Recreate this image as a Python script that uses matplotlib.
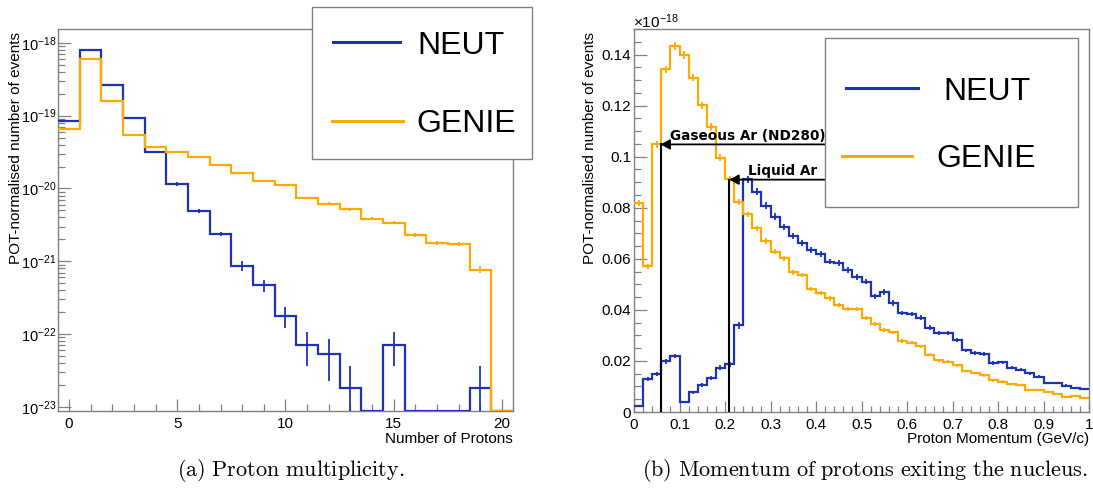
import numpy as np
import matplotlib
matplotlib.use("Agg")
import matplotlib.pyplot as plt
from matplotlib.patches import Rectangle
from matplotlib.lines import Line2D
from matplotlib.ticker import MultipleLocator, FixedLocator, NullFormatter, FuncFormatter

plt.rcParams['font.family'] = ['Liberation Sans', 'DejaVu Sans']
plt.rcParams['mathtext.fontset'] = 'custom'
plt.rcParams['mathtext.rm'] = 'Liberation Sans'
plt.rcParams['mathtext.it'] = 'Liberation Sans:italic'
plt.rcParams['mathtext.bf'] = 'Liberation Sans:bold'

W, H = 1093, 493

# ---- data: proton multiplicity (bins 0..20) ----
n_protons = np.arange(21)
neut_mult = [8.4e-20, 8.0e-19, 2.6e-19, 9.2e-20, 3.2e-20, 1.16e-20, 4.9e-21, 2.37e-21,
             8.7e-22, 4.7e-22, 1.8e-22, 7.1e-23, 5.4e-23, 1.8e-23, 0, 7.2e-23,
             0, 0, 0, 1.8e-23, 0]
neut_mult_err = [1.5e-21, 7e-21, 4e-21, 2e-21, 1.2e-21, 7e-22, 2.5e-22, 1.7e-22,
                 1.4e-22, 9e-23, 5.7e-23, 3.5e-23, 3.1e-23, 1.8e-23, 0, 3.6e-23,
                 0, 0, 0, 1.8e-23, 0]
genie_mult = [6.5e-20, 6.0e-19, 1.58e-19, 5.4e-20, 3.7e-20, 3.2e-20, 2.67e-20, 2.09e-20,
              1.63e-20, 1.28e-20, 1.13e-20, 7.5e-21, 6.2e-21, 5.15e-21, 3.84e-21, 3.39e-21,
              2.32e-21, 1.80e-21, 1.73e-21, 7.7e-22, 0]
genie_mult_err = [1e-21, 4e-21, 2e-21, 1e-21, 7e-22, 6e-22, 5e-22, 4.5e-22,
                  4e-22, 3.5e-22, 3.2e-22, 2.6e-22, 2.4e-22, 2.1e-22, 1.8e-22, 1.7e-22,
                  1.4e-22, 1.2e-22, 1.2e-22, 8.5e-23, 0]
log_decades = [-23, -22, -21, -20, -19, -18]

# ---- data: proton momentum, 50 bins of 0.02 GeV/c, in units of 1e-18 ----
p_edges = np.linspace(0.0, 1.0, 51)
neut_mom = [0.0024, 0.0130, 0.0149, 0.0198, 0.0220, 0.0039, 0.0077, 0.0105, 0.0132, 0.0174,
            0.0187, 0.0339, 0.0911, 0.0863, 0.0808, 0.0765, 0.0725, 0.0691, 0.0663, 0.0636,
            0.0619, 0.0589, 0.0584, 0.0555, 0.0529, 0.0511, 0.0453, 0.0470, 0.0427, 0.0388,
            0.0384, 0.0369, 0.0330, 0.0308, 0.0308, 0.0282, 0.0241, 0.0232, 0.0227, 0.0192,
            0.0195, 0.0174, 0.0165, 0.0151, 0.0139, 0.0114, 0.0113, 0.0103, 0.0094, 0.0089]
neut_mom_err = [0.0004, 0.0008, 0.0008, 0.0009, 0.0009, 0.0004, 0.0006, 0.0007, 0.0008, 0.0009,
                0.0009, 0.0012, 0.0015, 0.0014, 0.0014, 0.0013, 0.0013, 0.0012, 0.0012, 0.0012,
                0.0012, 0.0011, 0.0011, 0.0011, 0.0011, 0.0011, 0.0010, 0.0010, 0.0010, 0.0009,
                0.0009, 0.0009, 0.0009, 0.0008, 0.0008, 0.0008, 0.0007, 0.0007, 0.0007, 0.0006,
                0.0006, 0.0006, 0.0006, 0.0006, 0.0005, 0.0005, 0.0005, 0.0005, 0.0004, 0.0004]
genie_mom = [0.0820, 0.0571, 0.1048, 0.1342, 0.1434, 0.1399, 0.1310, 0.1201, 0.1116, 0.0996,
             0.0911, 0.0823, 0.0774, 0.0719, 0.0670, 0.0627, 0.0602, 0.0547, 0.0536, 0.0482,
             0.0466, 0.0445, 0.0418, 0.0405, 0.0402, 0.0368, 0.0343, 0.0321, 0.0312, 0.0278,
             0.0272, 0.0257, 0.0225, 0.0202, 0.0196, 0.0183, 0.0160, 0.0152, 0.0143, 0.0124,
             0.0119, 0.0109, 0.0105, 0.0086, 0.0086, 0.0079, 0.0069, 0.0060, 0.0064, 0.0056]
genie_mom_err = [0.0012, 0.0010, 0.0014, 0.0015, 0.0016, 0.0015, 0.0015, 0.0014, 0.0014, 0.0013,
                 0.0012, 0.0012, 0.0011, 0.0011, 0.0011, 0.0010, 0.0010, 0.0010, 0.0009, 0.0009,
                 0.0009, 0.0009, 0.0008, 0.0008, 0.0008, 0.0008, 0.0008, 0.0007, 0.0007, 0.0007,
                 0.0007, 0.0006, 0.0006, 0.0006, 0.0006, 0.0006, 0.0005, 0.0005, 0.0005, 0.0005,
                 0.0005, 0.0004, 0.0004, 0.0004, 0.0004, 0.0004, 0.0004, 0.0003, 0.0003, 0.0003]

# threshold markers: (label, momentum GeV/c, height, text x, text y)
thresholds = [("Gaseous Ar (ND280)", 0.0584, 0.1048, 0.079, 0.1066),
              ("Liquid Ar", 0.2095, 0.0910, 0.2505, 0.0928)]

series = ["NEUT", "GENIE"]
colors = {"NEUT": "#1c33b2", "GENIE": "#ffaa00"}
frame_col = "#808080"


def px(x, y):
    return x / W, 1 - y / H


def style_axes(ax):
    for s in ax.spines.values():
        s.set_color(frame_col)
        s.set_linewidth(1.0)
    ax.tick_params(which='both', direction='in', colors=frame_col, labelcolor='black',
                   top=False, right=False, labelsize=11, width=0.9)
    ax.tick_params(axis='x', which='both', pad=4)
    ax.tick_params(axis='y', which='both', pad=2)


fig = plt.figure(figsize=(W / 100, H / 100), dpi=100)

# ---------------- left: multiplicity ----------------
x0, y0 = px(58, 411)
x1, y1 = px(513, 29)
axl = fig.add_axes([x0, y0, x1 - x0, y1 - y0])
axl.set_yscale('log')
ymin_l, ymax_l = 8.8e-24, 1.55e-18
edges_m = np.append(n_protons - 0.5, n_protons[-1] + 0.5)
for name, vals, errs in [("NEUT", neut_mult, neut_mult_err), ("GENIE", genie_mult, genie_mult_err)]:
    v = np.array(vals)
    e = np.array(errs)
    vd = np.where(v > 0, v, ymin_l)
    axl.stairs(vd, edges_m, baseline=None, color=colors[name], lw=1.6, zorder=3)
    m = v > 0
    lo = np.minimum(e[m], v[m] - ymin_l * 0.5)
    axl.errorbar(n_protons[m], v[m], yerr=[lo, e[m]], fmt='none', ecolor=colors[name],
                 elinewidth=1.3, capsize=0, zorder=3)
axl.set_xlim(-0.5, 20.5)
axl.set_ylim(ymin_l, ymax_l)
axl.xaxis.set_major_locator(MultipleLocator(5))
axl.xaxis.set_minor_locator(MultipleLocator(1))
major_y = [10.0 ** d for d in log_decades]
minor_y = [k * 10.0 ** d for d in log_decades[:-1] for k in range(2, 10)]
minor_y = [t for t in minor_y + [k * 1e-18 for k in range(2, 10)] if ymin_l < t < ymax_l]
axl.yaxis.set_major_locator(FixedLocator(major_y))
axl.yaxis.set_minor_locator(FixedLocator(minor_y))
axl.yaxis.set_major_formatter(FuncFormatter(lambda v, p: r"$10^{%d}$" % round(np.log10(v))))
axl.yaxis.set_minor_formatter(NullFormatter())
style_axes(axl)
axl.tick_params(axis='y', labelsize=10.5, pad=1.5)
axl.tick_params(axis='x', which='major', length=8.5)
axl.tick_params(axis='x', which='minor', length=5)
axl.tick_params(axis='y', which='major', length=9.5)
axl.tick_params(axis='y', which='minor', length=5)

# ---------------- right: momentum ----------------
x0, y0 = px(634, 412)
x1, y1 = px(1089, 29)
axr = fig.add_axes([x0, y0, x1 - x0, y1 - y0])
centers = 0.5 * (p_edges[:-1] + p_edges[1:])
for name, vals, errs in [("NEUT", neut_mom, neut_mom_err), ("GENIE", genie_mom, genie_mom_err)]:
    axr.stairs(vals, p_edges, baseline=None, color=colors[name], lw=1.6, zorder=3)
    axr.errorbar(centers, vals, yerr=errs, fmt='none', ecolor=colors[name],
                 elinewidth=1.3, capsize=0, zorder=3)
for label, xv, yv, tx, ty in thresholds:
    axr.plot([xv, xv], [0, yv], color='black', lw=1.5, zorder=4)
    axr.annotate('', xy=(xv, yv), xytext=(0.43, yv),
                 arrowprops=dict(arrowstyle='-|>,head_length=0.55,head_width=0.3',
                                 color='black', lw=1.3, mutation_scale=10,
                                 shrinkA=0, shrinkB=0), zorder=4)
    axr.text(tx, ty, label, fontsize=9.8, fontweight='bold', family='DejaVu Sans',
             ha='left', va='baseline', zorder=5)
axr.set_xlim(0, 1)
axr.set_ylim(0, 0.15)
axr.xaxis.set_major_locator(MultipleLocator(0.1))
axr.xaxis.set_minor_locator(MultipleLocator(0.02))
axr.yaxis.set_major_locator(MultipleLocator(0.02))
axr.yaxis.set_minor_locator(MultipleLocator(0.005))
fmt = FuncFormatter(lambda v, p: "%g" % round(v, 6))
axr.xaxis.set_major_formatter(fmt)
axr.yaxis.set_major_formatter(fmt)
style_axes(axr)
axr.tick_params(axis='x', which='major', length=8)
axr.tick_params(axis='x', which='minor', length=4)
axr.tick_params(axis='y', which='major', length=9.5)
axr.tick_params(axis='y', which='minor', length=5)

# ---------------- axis titles ----------------
for xp in (16, 590):
    fig.text(*px(xp, 32), "POT-normalised number of events", rotation=90,
             ha='center', va='top', fontsize=11)
fig.text(*px(513, 443), "Number of Protons", ha='right', va='baseline', fontsize=11)
fig.text(*px(1089, 443), "Proton Momentum (GeV/c)", ha='right', va='baseline', fontsize=11)
fig.text(*px(633, 28), r"$\times10^{-18}$", ha='left', va='baseline', fontsize=11)

# ---------------- legends (drawn as boxes like ROOT TLegend) ----------------
legends = [
    # box (x0, y0, x1, y1), per entry: line x0, line x1, line y, text x, text baseline
    ((312, 7, 532, 159), [(333, 400, 42, 417, 54), (332, 403, 121, 416, 132)]),
    ((825, 38, 1078, 207), [(846, 918, 88, 943, 100), (842, 912, 156, 936, 167)]),
]
for (bx0, by0, bx1, by1), entries in legends:
    fx0, fy1 = px(bx0, by0)
    fx1, fy0 = px(bx1, by1)
    fig.add_artist(Rectangle((fx0, fy0), fx1 - fx0, fy1 - fy0, transform=fig.transFigure,
                             facecolor='white', edgecolor=frame_col, lw=1.0, zorder=10))
    for name, (lx0, lx1, ly, tx, ty) in zip(series, entries):
        a, b = px(lx0, ly)
        c, _ = px(lx1, ly)
        fig.add_artist(Line2D([a, c], [b, b], transform=fig.transFigure,
                              color=colors[name], lw=2.2, zorder=11))
        fig.text(*px(tx, ty), name, fontsize=23, ha='left', va='baseline', zorder=11)

# ---------------- captions ----------------
fig.text(*px(291, 471), r"$\mathrm{(a)\ Proton\ multiplicity.}$", ha='center', va='center',
         fontsize=16, math_fontfamily='cm')
fig.text(*px(865, 471), r"$\mathrm{(b)\ Momentum\ of\ protons\ exiting\ the\ nucleus.}$",
         ha='center', va='center', fontsize=16, math_fontfamily='cm')

fig.savefig("out.png", dpi=100)
